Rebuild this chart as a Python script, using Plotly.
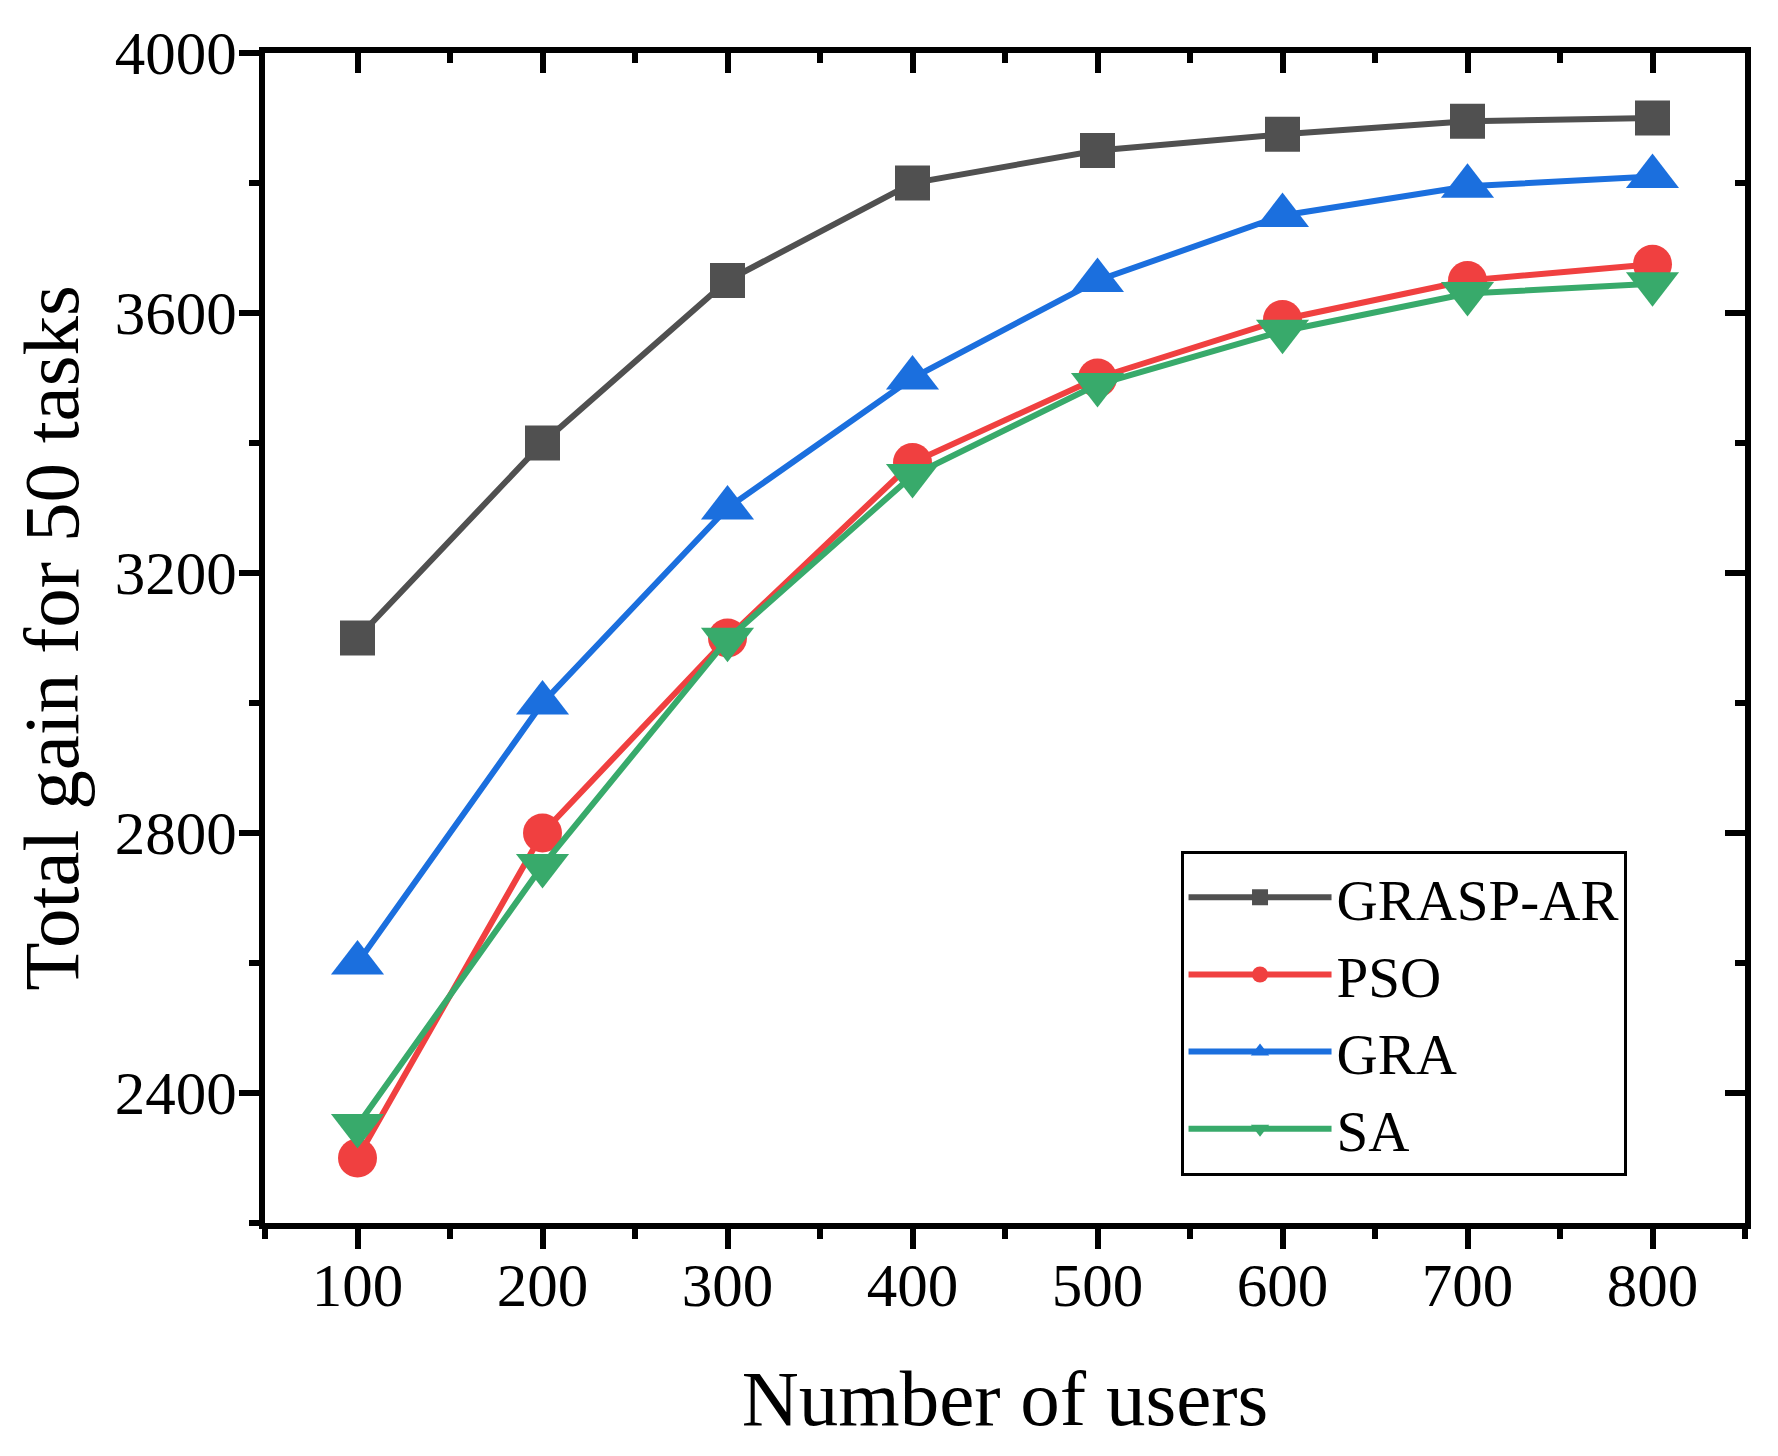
import plotly.graph_objects as go

# number of users on the x axis
users = [100, 200, 300, 400, 500, 600, 700, 800]

# total gain for 50 tasks
grasp_ar = [3100, 3400, 3650, 3800, 3850, 3875, 3895, 3900]
pso = [2300, 2800, 3100, 3370, 3500, 3590, 3650, 3675]
gra = [2600, 3000, 3300, 3500, 3650, 3750, 3795, 3810]
sa = [2350, 2750, 3098, 3350, 3490, 3572, 3630, 3645]

FONT = 'Liberation Serif, Times New Roman, serif'

series = [
    ('GRASP-AR', grasp_ar, '#505050', 'square', 35),
    ('PSO', pso, '#F04040', 'circle', 39),
    ('GRA', gra, '#1B6FDE', 'triangle-up', 46),
    ('SA', sa, '#38AA6B', 'triangle-down', 46),
]

fig = go.Figure()
for name, vals, col, sym, sz in series:
    fig.add_trace(go.Scatter(x=users, y=vals, name=name, mode='lines+markers',
                             line=dict(color=col, width=6),
                             marker=dict(symbol=sym, size=sz, color=col, line=dict(width=0))))

# invisible trace so the mirrored top/right axes get drawn
fig.add_trace(go.Scatter(x=users, y=grasp_ar, xaxis='x2', yaxis='y2', mode='lines',
                         line=dict(width=0), opacity=0, showlegend=False, hoverinfo='skip'))

xr = [50, 850]
yr = [2200, 4000]
axis_common = dict(showgrid=False, zeroline=False, showline=True, linecolor='black',
                   linewidth=6, tickcolor='black', tickwidth=6, ticklen=20)

fig.update_layout(
    width=1778, height=1456,
    margin=dict(l=249, r=41, t=33, b=241),
    plot_bgcolor='white', paper_bgcolor='white',
    font=dict(family=FONT, size=61, color='black'),
    xaxis=dict(range=xr, tick0=100, dtick=100, ticks='outside', ticklabelstandoff=-16,
               minor=dict(dtick=50, tick0=50, ticks='outside', ticklen=10, tickwidth=6, tickcolor='black'),
               title=dict(text='Number of users', font=dict(size=79), standoff=53),
               tickfont=dict(size=61), **axis_common),
    yaxis=dict(range=yr, tick0=2400, dtick=400, ticks='outside', ticklabelstandoff=-10,
               minor=dict(dtick=200, tick0=2200, ticks='outside', ticklen=10, tickwidth=6, tickcolor='black'),
               title=dict(text='Total gain for 50 tasks', font=dict(size=79), standoff=39),
               tickfont=dict(size=61), **axis_common),
    xaxis2=dict(range=xr, overlaying='x', anchor='y', side='top', tick0=100, dtick=100,
                ticks='inside', showticklabels=False,
                minor=dict(dtick=50, tick0=50, ticks='inside', ticklen=10, tickwidth=6, tickcolor='black'),
                **axis_common),
    yaxis2=dict(range=yr, overlaying='y', anchor='x', side='right', tick0=2400, dtick=400,
                ticks='inside', showticklabels=False,
                minor=dict(dtick=200, tick0=2200, ticks='inside', ticklen=10, tickwidth=6, tickcolor='black'),
                **axis_common),
    legend=dict(x=0.6186, y=0.3181, xanchor='left', yanchor='top',
                bgcolor='white', bordercolor='black', borderwidth=3,
                font=dict(size=57), itemwidth=143, tracegroupgap=0,
                itemsizing='trace'),
    showlegend=True,
)

fig.write_html("out.html")
